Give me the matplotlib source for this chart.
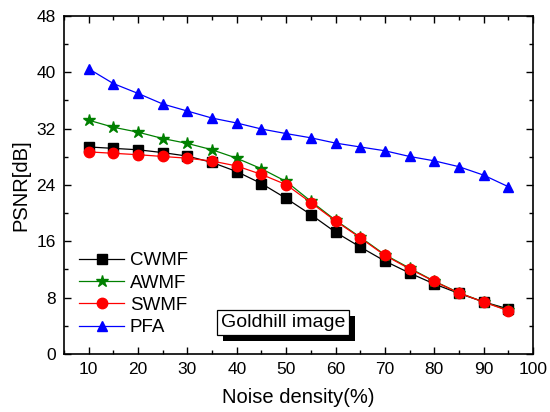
import matplotlib
matplotlib.use("Agg")
import matplotlib.pyplot as plt
from matplotlib.ticker import MultipleLocator
from matplotlib.patheffects import withSimplePatchShadow

noise = [10, 15, 20, 25, 30, 35, 40, 45, 50, 55, 60, 65, 70, 75, 80, 85, 90, 95]
cwmf = [29.4, 29.2, 29.0, 28.6, 28.1, 27.2, 25.9, 24.2, 22.1, 19.8, 17.3, 15.2, 13.2, 11.5, 9.95, 8.6, 7.4, 6.4]
awmf = [33.2, 32.2, 31.5, 30.6, 29.9, 29.0, 27.8, 26.3, 24.5, 21.7, 19.0, 16.6, 14.1, 12.2, 10.35, 8.7, 7.4, 6.2]
swmf = [28.7, 28.5, 28.3, 28.05, 27.8, 27.4, 26.7, 25.5, 24.05, 21.5, 18.9, 16.5, 14.0, 12.1, 10.3, 8.67, 7.38, 6.14]
pfa = [40.5, 38.4, 37.0, 35.5, 34.5, 33.5, 32.8, 31.95, 31.3, 30.7, 29.95, 29.4, 28.86, 28.05, 27.43, 26.6, 25.4, 23.76]

plt.rcParams['font.family'] = ['Liberation Sans', 'DejaVu Sans']

fig = plt.figure(figsize=(5.5, 4.12), dpi=100)
ax = fig.add_axes([0.1164, 0.1408, 0.8526, 0.8204])

ax.plot(noise, cwmf, color='black', lw=0.9, marker='s', ms=6.5, label='CWMF')
ax.plot(noise, awmf, color='green', lw=0.9, marker='*', ms=9, label='AWMF')
ax.plot(noise, swmf, color='red', lw=0.9, marker='o', ms=7.5, label='SWMF')
ax.plot(noise, pfa, color='blue', lw=0.9, marker='^', ms=7.5, label='PFA')

ax.set_xlim(5, 100)
ax.set_ylim(0, 48)
ax.xaxis.set_major_locator(MultipleLocator(10))
ax.xaxis.set_minor_locator(MultipleLocator(5))
ax.yaxis.set_major_locator(MultipleLocator(8))
ax.yaxis.set_minor_locator(MultipleLocator(4))
ax.tick_params(which='both', direction='in', top=True, right=True, labelsize=12.5, width=1.0)
ax.tick_params(which='major', length=5, pad=6)
ax.tick_params(which='minor', length=3)
for s in ax.spines.values():
    s.set_linewidth(1.2)

ax.set_xlabel('Noise density(%)', fontsize=14.5, labelpad=8)
ax.set_ylabel('PSNR[dB]', fontsize=14.5, labelpad=4)

leg = ax.legend(loc='upper left', bbox_to_anchor=(0.012, 0.329), frameon=False, fontsize=13.5,
                handlelength=2.4, labelspacing=0.28, handletextpad=0.3, borderaxespad=0.3,
                borderpad=0.2)

ax.text(0.335, 0.094, 'Goldhill image', transform=ax.transAxes, fontsize=14,
        ha='left', va='center',
        bbox=dict(boxstyle='square,pad=0.2', facecolor='white', edgecolor='black', lw=0.9),
        zorder=6)
t = ax.texts[-1]
t.get_bbox_patch().set_path_effects([withSimplePatchShadow(offset=(4, -4.5), shadow_rgbFace='black', alpha=1.0)])

fig.savefig('out.png', dpi=100)
